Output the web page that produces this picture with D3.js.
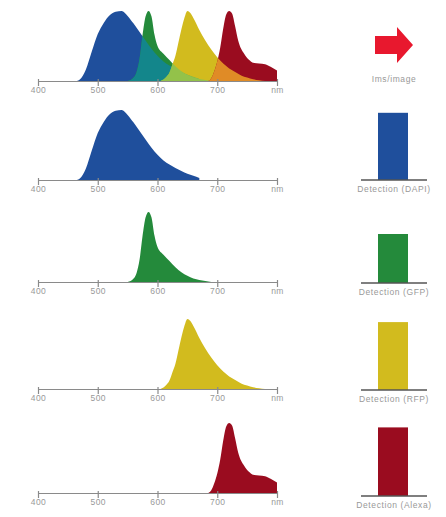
<!DOCTYPE html>
<html>
<head>
<meta charset="utf-8">
<script src="https://cdn.jsdelivr.net/npm/d3@7"></script>
<style>
  body { margin: 0; background: #fff; }
  text { font-family: "Liberation Sans", Arial, sans-serif; }
</style>
</head>
<body>
<div class="chart"></div>
<script>
// Emission spectra (relative intensity)
var dapiNm  = [465, 470, 480, 490, 500, 510, 520, 530, 540, 550, 560, 570, 580, 590, 600, 610, 620, 630, 640, 650, 660, 670];
var dapiVal = [0, 0.02, 0.16, 0.42, 0.67, 0.83, 0.94, 0.99, 1.0, 0.93, 0.82, 0.7, 0.58, 0.46, 0.36, 0.28, 0.22, 0.17, 0.13, 0.09, 0.06, 0.03];

var gfpNm  = [550, 560, 565, 570, 575, 580, 585, 590, 595, 600, 610, 620, 630, 640, 650, 660, 670, 680, 690];
var gfpVal = [0, 0.05, 0.13, 0.32, 0.66, 0.92, 1.0, 0.92, 0.66, 0.5, 0.39, 0.3, 0.21, 0.14, 0.09, 0.05, 0.03, 0.015, 0];

var rfpNm  = [605, 615, 620, 625, 630, 635, 640, 645, 650, 655, 660, 670, 680, 690, 700, 710, 720, 730, 740, 750, 760, 770, 780];
var rfpVal = [0, 0.06, 0.12, 0.24, 0.36, 0.55, 0.74, 0.9, 1.0, 0.97, 0.9, 0.73, 0.58, 0.45, 0.34, 0.25, 0.18, 0.13, 0.08, 0.05, 0.025, 0.01, 0];

var alexaNm  = [685, 690, 695, 700, 705, 710, 715, 720, 725, 730, 735, 740, 745, 750, 755, 760, 770, 780, 790, 800];
var alexaVal = [0, 0.04, 0.14, 0.28, 0.48, 0.75, 0.95, 1.0, 0.96, 0.78, 0.58, 0.46, 0.39, 0.33, 0.29, 0.26, 0.25, 0.24, 0.2, 0.15];

// Detection bars
var detectLabels = ["Detection (DAPI)", "Detection (GFP)", "Detection (RFP)", "Detection (Alexa)"];
var detectVal = [0.96, 0.7, 0.97, 0.98];

var tickNm = [400, 500, 600, 700, 800];
var tickLabels = ["400", "500", "600", "700", "nm"];

var svgWidth = 446;
var svgHeight = 517;

var svg = d3.select(".chart")
  .append("svg")
  .attr("width", svgWidth)
  .attr("height", svgHeight);

var dyes = [
  { nm: dapiNm, val: dapiVal, color: "#1f4f9c" },
  { nm: gfpNm, val: gfpVal, color: "#248a3b" },
  { nm: rfpNm, val: rfpVal, color: "#d2bb1e" },
  { nm: alexaNm, val: alexaVal, color: "#9a0c1f" }
];

// overlaps in the combined panel: [under, over, colour]
var overlaps = [
  [0, 1, "#13868b"],
  [0, 2, "#86bb48"],
  [1, 2, "#93c24a"],
  [2, 3, "#e08b26"]
];

var baselines = [81, 180, 282, 389, 493];
var panelH = 70;

var x = d3.scaleLinear().domain([400, 800]).range([38, 277]);

function toPoints(d) {
  return d.nm.map(function(n, i) { return [n, d.val[i]]; });
}

function drawAxis(g, base) {
  var axis = d3.axisBottom(x)
    .tickValues(tickNm)
    .tickFormat(function(d, i) { return tickLabels[i]; })
    .tickSize(5)
    .tickSizeOuter(0)
    .tickPadding(1);
  var a = g.append("g")
    .attr("transform", "translate(0," + base + ")")
    .call(axis);
  a.select(".domain").attr("stroke", "#8a8a8a").attr("stroke-width", 1.2);
  a.selectAll(".tick line").attr("stroke", "#8a8a8a").attr("stroke-width", 1.2).attr("y1", -2);
  a.selectAll(".tick text")
    .attr("fill", "#999")
    .attr("font-size", 8.5)
    .attr("letter-spacing", 0.4);
}

baselines.forEach(function(base, p) {
  var g = svg.append("g");
  var y = d3.scaleLinear().domain([0, 1]).range([base, base - panelH]);
  var area = d3.area()
    .x(function(d) { return x(d[0]); })
    .y0(y(0))
    .y1(function(d) { return y(d[1]); })
    .curve(d3.curveMonotoneX);

  var list = p === 0 ? dyes : [dyes[p - 1]];
  list.forEach(function(d) {
    g.append("path")
      .attr("d", area(toPoints(d)))
      .attr("fill", d.color);
  });

  if (p === 0) {
    overlaps.forEach(function(o, k) {
      var id = "clip" + k;
      svg.append("clipPath").attr("id", id)
        .append("path")
        .attr("d", area(toPoints(dyes[o[1]])));
      g.append("path")
        .attr("d", area(toPoints(dyes[o[0]])))
        .attr("clip-path", "url(#" + id + ")")
        .attr("fill", o[2]);
    });
  }

  drawAxis(g, base);
});

// Right column: arrow and detection bars
var right = svg.append("g");
right.append("path")
  .attr("d", "M375,36 L397,36 L397,27 L413,45 L397,63 L397,54 L375,54 Z")
  .attr("fill", "#e8182e");
right.append("text")
  .attr("x", 394).attr("y", 82)
  .attr("text-anchor", "middle")
  .attr("fill", "#999")
  .attr("font-size", 8.5)
  .attr("letter-spacing", 0.6)
  .text("Ims/image");

var barBase = [180, 283, 390, 496];
var barX = d3.scaleBand().domain([0]).range([378, 408]);
detectLabels.forEach(function(label, i) {
  var base = barBase[i];
  var yb = d3.scaleLinear().domain([0, 1]).range([base, base - panelH]);
  right.append("rect")
    .attr("x", barX(0))
    .attr("width", barX.bandwidth())
    .attr("y", yb(detectVal[i]))
    .attr("height", yb(0) - yb(detectVal[i]))
    .attr("fill", dyes[i].color);
  right.append("line")
    .attr("x1", 361).attr("x2", 427)
    .attr("y1", base).attr("y2", base)
    .attr("stroke", "#555")
    .attr("stroke-width", 1.3);
  right.append("text")
    .attr("x", 394).attr("y", base + 12)
    .attr("text-anchor", "middle")
    .attr("fill", "#999")
    .attr("font-size", 8.5)
    .attr("letter-spacing", 0.6)
    .text(label);
});
</script>
</body>
</html>
